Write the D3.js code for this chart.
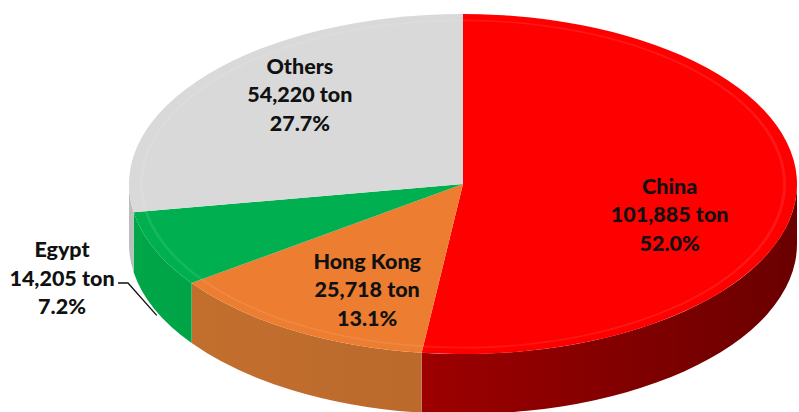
<!DOCTYPE html>
<html>
<head>
<meta charset="utf-8">
<script src="https://cdn.jsdelivr.net/npm/d3@7/dist/d3.min.js"></script>
<style>
  html, body { margin: 0; padding: 0; background: #fff; }
  svg { display: block; }
  text { font-family: Lato, "Open Sans", sans-serif; font-weight: 900; fill: #111; }
</style>
</head>
<body>
<svg id="chart" width="799" height="412"></svg>
<script>
// Export volumes by destination (ton)
const categories = ["China", "Hong Kong", "Egypt", "Others"];
const tons = [101885, 25718, 14205, 54220];
const tonLabels = ["101,885 ton", "25,718 ton", "14,205 ton", "54,220 ton"];
const percentLabels = ["52.0%", "13.1%", "7.2%", "27.7%"];

// Face colours: top surface and side wall (light / dark ends of the wall gradient)
const topColors = ["#ff0000", "#ed7d31", "#00b050", "#d9d9d9"];
const sideLight = ["#a00000", "#c4702e", "#00a648", "#bdbdbd"];
const sideDark  = ["#6a0000", "#b0622a", "#009040", "#a8a8a8"];

const W = 799, H = 412;
const cx = 463, cy = 184, rx = 334, ry = 170, depth = 60;
const k = ry / rx;              // vertical squash of the tilted disc
const D = depth / k;            // wall height before squashing

const svg = d3.select("#chart");
const defs = svg.append("defs");

const pie = d3.pie().sort(null).value(d => d.value);
const data = categories.map((c, i) => ({ name: c, value: tons[i], i }));
const arcsData = pie(data);

// horizontal gradients for the side walls
arcsData.forEach((a, i) => {
  const g = defs.append("linearGradient")
    .attr("id", "wall" + i)
    .attr("gradientUnits", "userSpaceOnUse")
    .attr("x1", -rx).attr("y1", 0).attr("x2", rx).attr("y2", 0);
  g.append("stop").attr("offset", "0%").attr("stop-color", sideLight[i]);
  g.append("stop").attr("offset", "100%").attr("stop-color", sideDark[i]);
});
// red wall darkens from the front towards the right edge
defs.select("#wall0").attr("x1", -60).attr("x2", rx);

const disc = svg.append("g")
  .attr("transform", `translate(${cx},${cy}) scale(1,${k})`);

const toSvg = t => t - Math.PI / 2;   // pie angle (0 = top, clockwise) -> svg angle

// Side walls: only the front half (pie angles between 90° and 270°) is visible
function wallPath(a0, a1) {
  const s = Math.max(a0, Math.PI / 2), e = Math.min(a1, 3 * Math.PI / 2);
  if (e <= s) return null;
  const p = d3.path();
  p.moveTo(rx * Math.cos(toSvg(s)), rx * Math.sin(toSvg(s)));
  p.arc(0, 0, rx, toSvg(s), toSvg(e), false);
  p.lineTo(rx * Math.cos(toSvg(e)), rx * Math.sin(toSvg(e)) + D);
  p.arc(0, D, rx, toSvg(e), toSvg(s), true);
  p.closePath();
  return p.toString();
}

disc.selectAll("path.wall")
  .data(arcsData.filter(a => wallPath(a.startAngle, a.endAngle)))
  .join("path")
  .attr("class", "wall")
  .attr("d", a => wallPath(a.startAngle, a.endAngle))
  .attr("fill", a => `url(#wall${a.index})`);

// Top faces
const arc = d3.arc().innerRadius(0).outerRadius(rx);
disc.selectAll("path.top")
  .data(arcsData)
  .join("path")
  .attr("class", "top")
  .attr("d", arc)
  .attr("fill", a => topColors[a.index]);

// soft bevel highlight around the rim of the top face
const rim = d3.arc().innerRadius(rx - 14).outerRadius(rx - 11);
disc.selectAll("path.rim")
  .data(arcsData)
  .join("path")
  .attr("class", "rim")
  .attr("d", rim)
  .attr("fill", "#fff")
  .attr("opacity", 0.09);

// Labels
const lineGap = 28.5;
const labelFactor = 0.62;
const nudges = { "China": [0, 24], "Hong Kong": [10, 15], "Egypt": [0, 0], "Others": [-5, -21] };

function labelCenter(a) {
  const m = (a.startAngle + a.endAngle) / 2;
  const [nx, ny] = nudges[a.data.name];
  return [cx + rx * labelFactor * Math.sin(m) + nx, cy - ry * labelFactor * Math.cos(m) + ny];
}

const labels = svg.append("g").attr("font-size", 21.5).attr("text-anchor", "middle");

arcsData.forEach(a => {
  let x, y;
  if (a.data.name === "Egypt") {
    // outside label with a leader line down to the bottom of the wall
    x = 62; y = 278;
    const m = (a.startAngle + a.endAngle) / 2;
    const wx = cx + rx * Math.sin(m) + 2, wy = cy - ry * Math.cos(m) + depth * 1.1;
    svg.append("path")
      .attr("d", `M118,283H128L${wx},${wy}`)
      .attr("fill", "none").attr("stroke", "#111").attr("stroke-width", 1.3);
  } else {
    [x, y] = labelCenter(a);
  }
  const lines = [a.data.name, tonLabels[a.index], percentLabels[a.index]];
  const t = labels.append("text").attr("x", x).attr("y", y - lineGap);
  lines.forEach((s, j) => {
    t.append("tspan").attr("x", x).attr("y", y - lineGap + j * lineGap).attr("dy", "0.35em").text(s);
  });
});
</script>
</body>
</html>
